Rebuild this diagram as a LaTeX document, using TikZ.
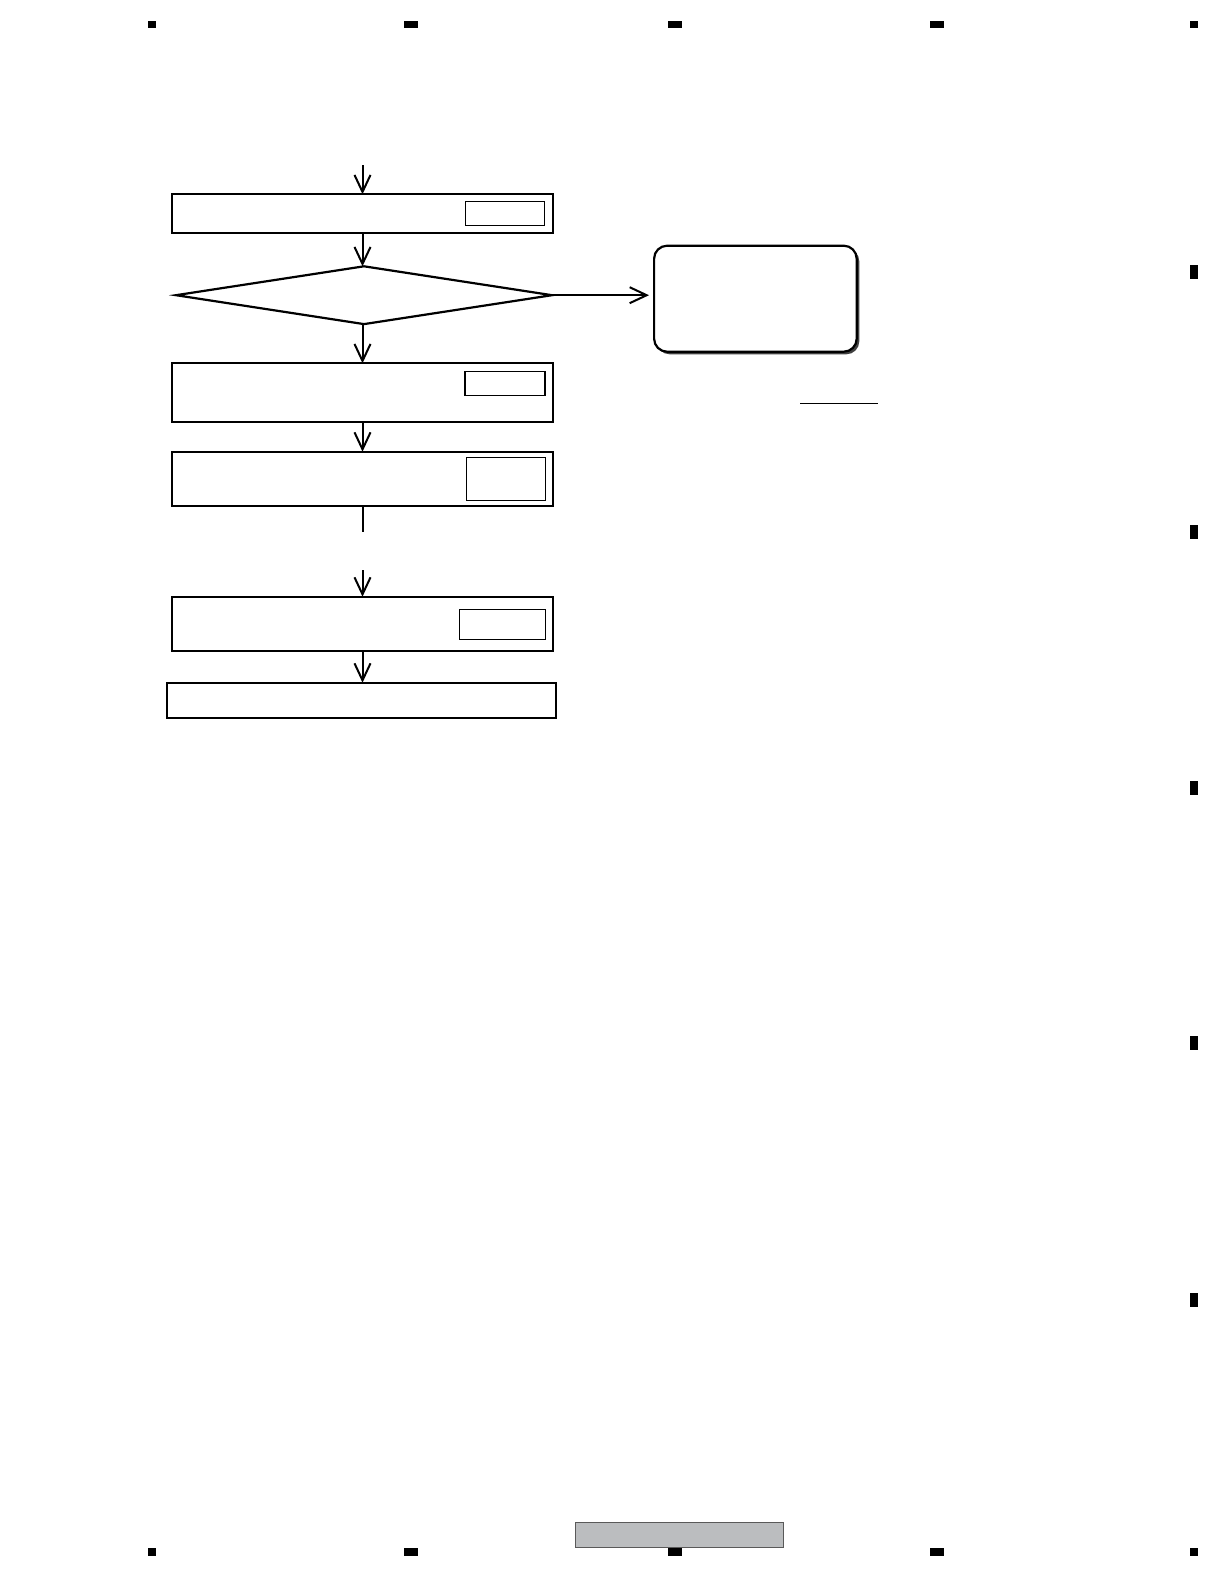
\documentclass[tikz,border=0pt]{standalone}
\usepackage{amsmath,amssymb}
\usepackage{tikz}
\usetikzlibrary{shapes.geometric}
\usetikzlibrary{positioning}
\usetikzlibrary{arrows.meta}
\usetikzlibrary{shadows}
\usepackage{xcolor}
\definecolor{bargray}{RGB}{187,189,191}
\begin{document}
\begin{tikzpicture}[x=.5pt,y=-.5pt,
stepbox/.style={draw,rectangle,line width=1.15pt,inner sep=0,outer sep=0},
tagbox/.style={draw,rectangle,line width=.6pt,inner sep=0,outer sep=0},
testbox/.style={draw,diamond,line width=1.1pt,inner sep=0,outer sep=0},
notebox/.style={draw,rectangle,rounded corners=6.5pt,line width=1.1pt,fill=white,
  drop shadow={shadow xshift=1.3pt,shadow yshift=-1.3pt,fill=black!75,opacity=1}},
flow/.style={line width=1pt,-{Straight Barb[length=8.5pt,width=8pt]}}]
\useasboundingbox (0,0) rectangle (1224,1584);
% page marks
\fill (148,21) rectangle (156,28); \fill (404,21) rectangle (418,28);
\fill (668,21) rectangle (682,28); \fill (930,21) rectangle (944,28);
\fill (1190,21) rectangle (1198,28);
\foreach \y in {265,525,781,1036,1293} \fill (1190,\y) rectangle (1198,\y+14);
\fill (148,1548) rectangle (156,1556); \fill (404,1548) rectangle (418,1556);
\fill (668,1548) rectangle (682,1556); \fill (930,1548) rectangle (944,1556);
\fill (1190,1548) rectangle (1198,1556);
\draw[gray!70!black,fill=bargray,line width=.5pt] (575,1522) rectangle (783,1547);
% flow
\coordinate (in1) at (362.5,165);
\node[stepbox,minimum width=190.3pt,minimum height=19.2pt] (s1) at (362.5,213.5) {};
\node[tagbox,minimum width=39.6pt,minimum height=12.1pt] (t1) at (504.7,213.2) {};
\node[testbox,minimum width=188pt,minimum height=28.9pt] (q1) at (364,295.2) {};
\node[stepbox,minimum width=190.3pt,minimum height=29.2pt] (s2) at (362.5,392.5) {};
\node[tagbox,minimum width=40pt,minimum height=12.1pt] (t2) at (505,383.2) {};
\node[stepbox,minimum width=190.3pt,minimum height=27.2pt] (s3) at (362.5,478.9) {};
\node[tagbox,minimum width=39.8pt,minimum height=21.5pt] (t3) at (505.9,478.8) {};
\coordinate (cut1) at (362.5,531.7);
\coordinate (in2) at (362.5,570);
\node[stepbox,minimum width=190.3pt,minimum height=27.2pt] (s4) at (362.5,623.9) {};
\node[tagbox,minimum width=43.2pt,minimum height=15pt] (t4) at (502.5,624.3) {};
\node[stepbox,minimum width=194.6pt,minimum height=17.5pt] (s5) at (361.4,700.2) {};
\node[notebox,minimum width=101.3pt,minimum height=53pt] (n1) at (755.4,298.7) {};
\draw[flow] (in1)--(s1.north);
\draw[flow] (s1.south)--(s1.south|-q1.north);
\draw[flow] (s2.north|-q1.south)--(s2.north);
\draw[flow] (s2.south)--(s3.north);
\draw[line width=1pt] (s3.south)--(cut1);
\draw[flow] (in2)--(s4.north);
\draw[flow] (s4.south)--(s4.south|-s5.north);
\draw[flow,shorten >=2pt] (q1.east)--(q1.east-|n1.west);
\draw[line width=.5pt] (800,403.3)--(878.3,403.3);
\end{tikzpicture}
\end{document}
